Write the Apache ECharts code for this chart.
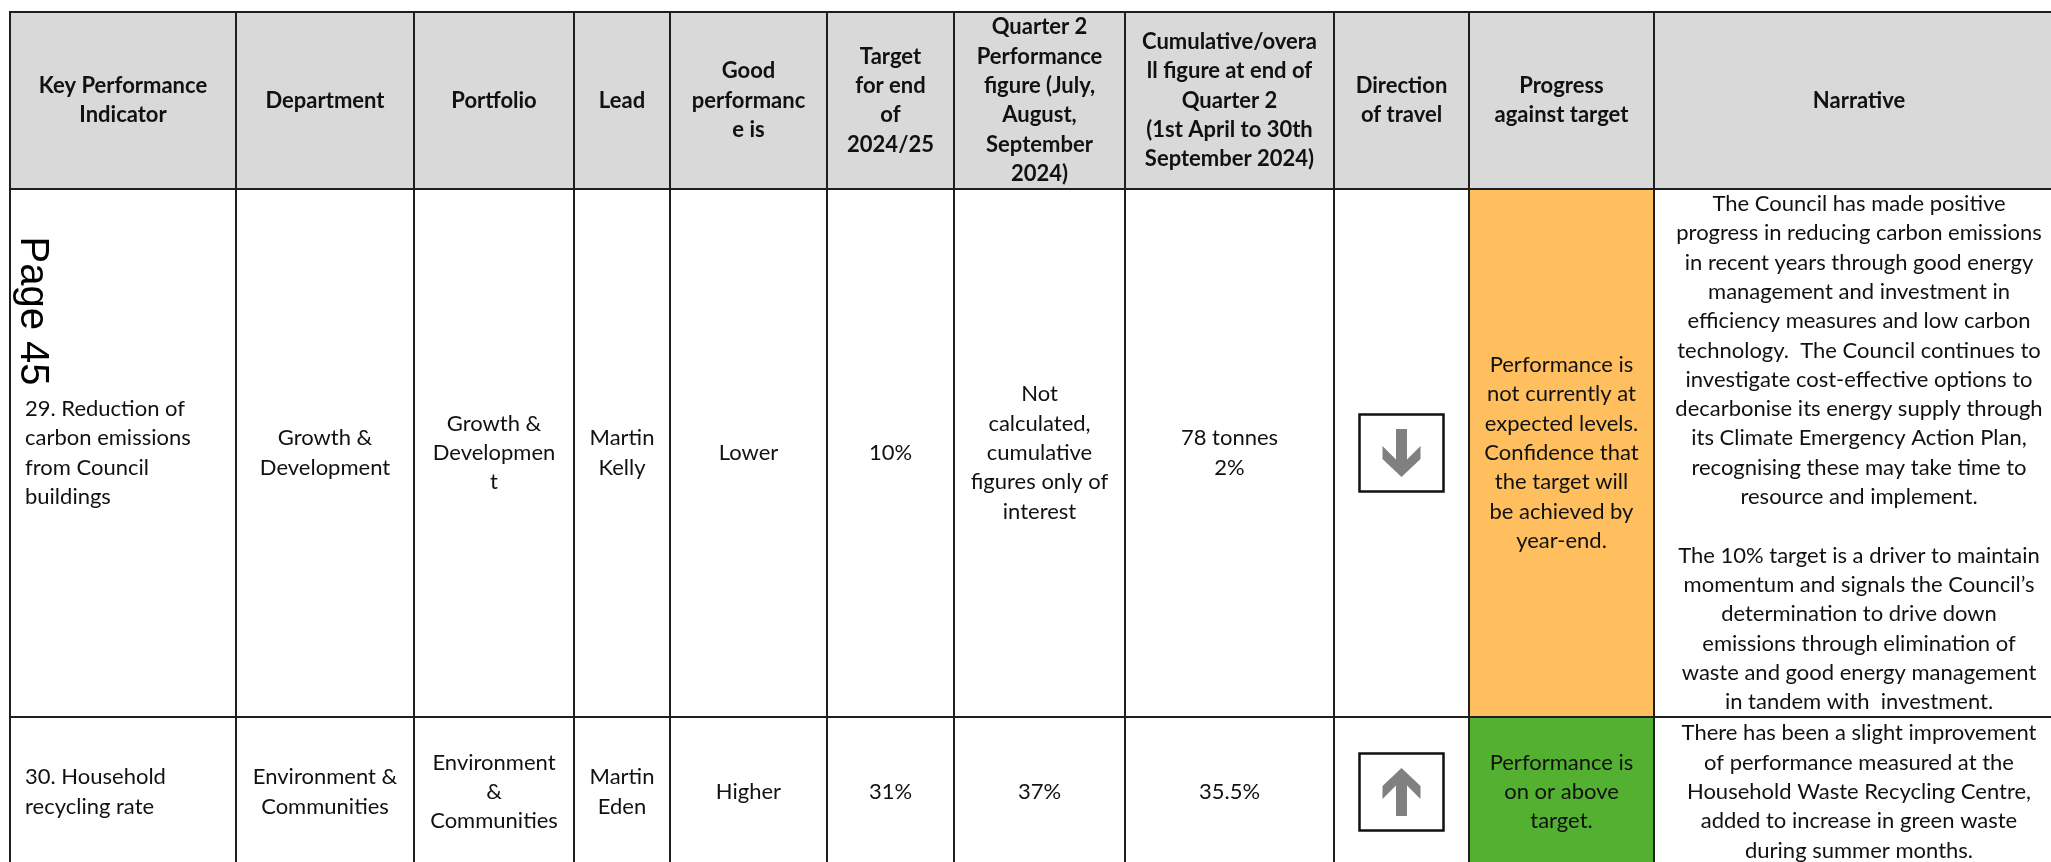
<!DOCTYPE html>
<html>
<head>
<meta charset="utf-8">
<script src="https://cdn.jsdelivr.net/npm/echarts@6/dist/echarts.min.js"></script>
<style>
html,body{margin:0;padding:0;background:#fff}
#main{width:2051px;height:862px}
</style>
</head>
<body>
<div id="main"></div>
<script>
// table content, one array per column / field
var headers = [
    'Key Performance\nIndicator',
    'Department',
    'Portfolio',
    'Lead',
    'Good\nperformanc\ne is',
    'Target\nfor end\nof\n2024/25',
    'Quarter 2\nPerformance\nfigure (July,\nAugust,\nSeptember\n2024)',
    'Cumulative/overa\nll figure at end of\nQuarter 2\n(1st April to 30th\nSeptember 2024)',
    'Direction\nof travel',
    'Progress\nagainst target',
    'Narrative'
];
var kpis = ['29. Reduction of\ncarbon emissions\nfrom Council\nbuildings', '30. Household\nrecycling rate'];
var departments = ['Growth &\nDevelopment', 'Environment &\nCommunities'];
var portfolios = ['Growth &\nDevelopmen\nt', 'Environment\n&\nCommunities'];
var leads = ['Martin\nKelly', 'Martin\nEden'];
var goodIs = ['Lower', 'Higher'];
var targets = ['10%', '31%'];
var q2Figures = ['Not\ncalculated,\ncumulative\nfigures only of\ninterest', '37%'];
var cumulative = ['78 tonnes\n2%', '35.5%'];
var directions = ['down', 'up'];
var progress = [
    'Performance is\nnot currently at\nexpected levels.\nConfidence that\nthe target will\nbe achieved by\nyear-end.',
    'Performance is\non or above\ntarget.'
];
var progressStatus = ['amber', 'green'];
var narratives = [
    'The Council has made positive\nprogress in reducing carbon emissions\nin recent years through good energy\nmanagement and investment in\nefficiency measures and low carbon\ntechnology.  The Council continues to\ninvestigate cost-effective options to\ndecarbonise its energy supply through\nits Climate Emergency Action Plan,\nrecognising these may take time to\nresource and implement.\n\nThe 10% target is a driver to maintain\nmomentum and signals the Council\u2019s\ndetermination to drive down\nemissions through elimination of\nwaste and good energy management\nin tandem with  investment.',
    'There has been a slight improvement\nof performance measured at the\nHousehold Waste Recycling Centre,\nadded to increase in green waste\nduring summer months.'
];

// layout (column and row edges in page units)
var colEdges = [10, 236, 414, 574, 670, 827, 954, 1125, 1334, 1469, 1654, 2064];
var rowEdges = [12, 189, 717, 867];
var statusColors = {amber: '#FFBF5F', green: '#53B031'};
var FONT = 'Lato';

var cells = [];
headers.forEach(function (h, c) {
    cells.push({col: c, row: 0, text: h, fill: '#D9D9D9', bold: true});
});
for (var r = 0; r < kpis.length; r++) {
    var rowVals = [kpis[r], departments[r], portfolios[r], leads[r], goodIs[r], targets[r],
        q2Figures[r], cumulative[r], '', progress[r], narratives[r]];
    rowVals.forEach(function (v, c) {
        cells.push({
            col: c, row: r + 1, text: v,
            fill: c === 9 ? statusColors[progressStatus[r]] : '#fff',
            left: c === 0,
            arrow: c === 8 ? directions[r] : null
        });
    });
}

function arrowPoints(cx, cy, dir) {
    var s = dir === 'up' ? 1 : -1;
    var pts = [[0, 0], [19, 18], [19, 31], [5.5, 17.5], [5.5, 48], [-5.5, 48], [-5.5, 17.5], [-19, 31], [-19, 18]];
    return pts.map(function (p) { return [cx + p[0], cy + s * (p[1] - 24)]; });
}

function renderCell(params, api) {
    var cell = cells[params.dataIndex];
    var p0 = api.coord([colEdges[cell.col], rowEdges[cell.row]]);
    var p1 = api.coord([colEdges[cell.col + 1], rowEdges[cell.row + 1]]);
    var w = p1[0] - p0[0], h = p1[1] - p0[1];
    var cx = p0[0] + w / 2, cy = p0[1] + h / 2;
    var children = [{
        type: 'rect',
        shape: {x: p0[0], y: p0[1], width: w, height: h},
        style: {fill: cell.fill, stroke: '#1f1f1f', lineWidth: 2}
    }];
    if (cell.arrow) {
        children.push({
            type: 'rect',
            shape: {x: cx - 42, y: cy - 38.5, width: 84, height: 77},
            style: {fill: '#fff', stroke: '#111', lineWidth: 2.5}
        });
        children.push({
            type: 'polygon',
            shape: {points: arrowPoints(cx, cy, cell.arrow)},
            style: {fill: '#808080'}
        });
    }
    if (cell.text) {
        children.push({
            type: 'text',
            style: {
                text: cell.text,
                x: cell.left ? p0[0] + 15 : cx,
                y: cy,
                align: cell.left ? 'left' : 'center',
                verticalAlign: 'middle',
                fontFamily: FONT,
                fontSize: 22,
                fontWeight: cell.bold ? 'bold' : 'normal',
                lineHeight: 29.3,
                fill: '#111'
            }
        });
    }
    return {type: 'group', children: children};
}

var chart = echarts.init(document.getElementById('main'));
chart.setOption({
    animation: false,
    grid: {left: 0, right: 0, top: 0, bottom: 0},
    xAxis: {type: 'value', min: 0, max: 2051, show: false},
    yAxis: {type: 'value', min: 0, max: 862, inverse: true, show: false},
    graphic: [{
        type: 'text',
        x: 32, y: 311,
        rotation: -Math.PI / 2,
        z: 100,
        style: {
            text: 'Page 45',
            font: '40px "Liberation Sans"',
            align: 'center',
            verticalAlign: 'middle',
            fill: '#000'
        }
    }],
    series: [{
        type: 'custom',
        renderItem: renderCell,
        clip: false,
        data: cells.map(function (d) { return [d.col, d.row]; })
    }]
});
</script>
</body>
</html>
